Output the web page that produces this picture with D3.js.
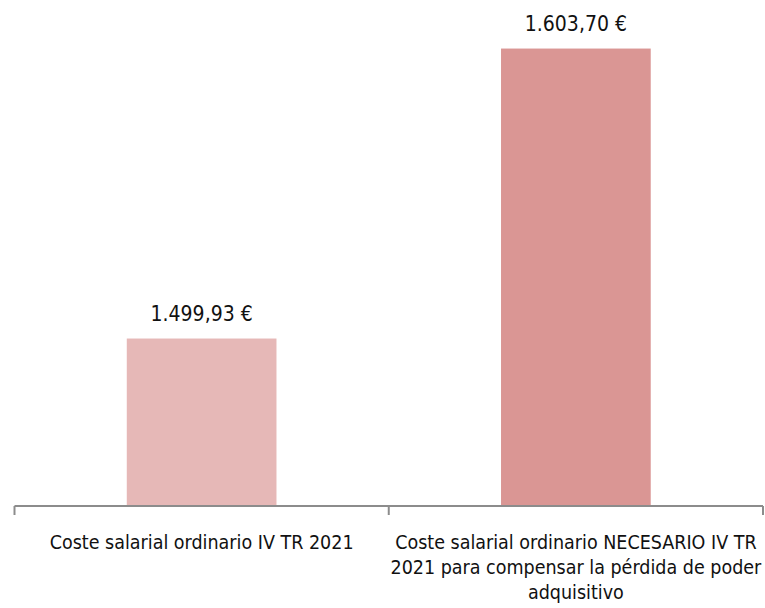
<!DOCTYPE html>
<html>
<head>
<meta charset="utf-8">
<script src="https://cdn.jsdelivr.net/npm/d3@7"></script>
<style>
  body { margin: 0; background: #fff; }
  svg text { font-family: "DejaVu Sans Condensed", "DejaVu Sans", sans-serif; fill: #111; }
</style>
</head>
<body>
<div class="chart"></div>
<script>
var categories = [
    `Coste salarial ordinario IV TR 2021`,
    `Coste salarial ordinario NECESARIO IV TR 2021 para compensar la pérdida de poder adquisitivo`
];
var values = [1499.93, 1603.70];
var colors = [`#e6b8b7`, `#da9694`];

var fullWidth = 765;
var fullHeight = 608;
var margin = {top: 3, bottom: 102, left: 14.5, right: 2};
var width = fullWidth - margin.left - margin.right;
var height = fullHeight - margin.top - margin.bottom;

var data = categories.map((c, i) => ({name: c, value: values[i], color: colors[i]}));

var svg = d3.select(`.chart`)
    .append(`svg`)
    .attr(`width`, fullWidth)
    .attr(`height`, fullHeight)
    .attr(`viewBox`, `0 0 ${fullWidth} ${fullHeight}`)
    .append(`g`)
    .attr(`transform`, `translate(${margin.left},${margin.top})`);

var xScale = d3.scaleBand()
    .domain(categories)
    .range([0, width])
    .paddingInner(0.6)
    .paddingOuter(0.3);

var yScale = d3.scaleLinear()
    .domain([1440, 1620])
    .range([height, 0]);

var fmt = d3.formatLocale({decimal: `,`, thousands: `.`, grouping: [3], currency: [``, ` €`]}).format(`$,.2f`);

svg.selectAll(`.bar`)
    .data(data)
    .enter()
    .append(`rect`)
    .attr(`class`, `bar`)
    .attr(`x`, d => xScale(d.name))
    .attr(`width`, xScale.bandwidth())
    .attr(`y`, d => yScale(d.value))
    .attr(`height`, d => height - yScale(d.value))
    .style(`fill`, d => d.color);

svg.selectAll(`.val`)
    .data(data)
    .enter()
    .append(`text`)
    .attr(`class`, `val`)
    .attr(`x`, d => xScale(d.name) + xScale.bandwidth() / 2)
    .attr(`y`, d => yScale(d.value) - 18)
    .style(`text-anchor`, `middle`)
    .style(`font-size`, `21px`)
    .text(d => fmt(d.value));

// category axis: line plus ticks at band edges
var step = xScale.step();
var axis = svg.append(`g`).attr(`transform`, `translate(0, ${height})`);
axis.append(`line`)
    .attr(`x1`, 0).attr(`x2`, width)
    .attr(`y1`, 0).attr(`y2`, 0)
    .style(`stroke`, `#8c8c8c`).style(`stroke-width`, 2);
axis.selectAll(`.tick`)
    .data(d3.range(categories.length + 1))
    .enter()
    .append(`line`)
    .attr(`class`, `tick`)
    .attr(`x1`, i => i * step).attr(`x2`, i => i * step)
    .attr(`y1`, 0).attr(`y2`, 9)
    .style(`stroke`, `#8c8c8c`).style(`stroke-width`, 2);

var labels = axis.selectAll(`.cat`)
    .data(data)
    .enter()
    .append(`text`)
    .attr(`class`, `cat`)
    .attr(`y`, 43)
    .style(`text-anchor`, `middle`)
    .style(`font-size`, `19.5px`)
    .attr(`transform`, d => `translate(${xScale(d.name) + xScale.bandwidth() / 2},0)`);

// wrap labels to the band step
labels.each(function(d) {
    var text = d3.select(this);
    var words = d.name.split(` `);
    var line = [];
    var tspan = text.append(`tspan`).attr(`x`, 0).attr(`dy`, 0);
    words.forEach(w => {
        line.push(w);
        tspan.text(line.join(` `));
        if (tspan.node().getComputedTextLength() > step + 2 && line.length > 1) {
            line.pop();
            tspan.text(line.join(` `));
            line = [w];
            tspan = text.append(`tspan`).attr(`x`, 0).attr(`dy`, 25).text(w);
        }
    });
});
</script>
</body>
</html>
